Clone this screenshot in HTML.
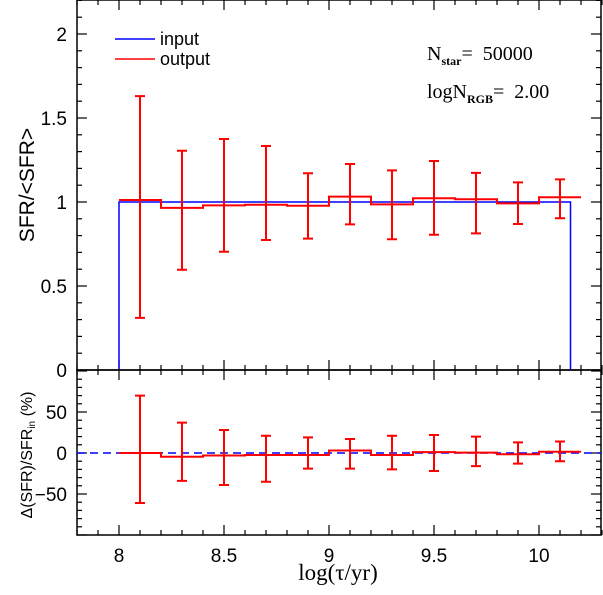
<!DOCTYPE html>
<html><head><meta charset="utf-8"><style>
html,body{margin:0;padding:0;background:#fff;}
svg{display:block;font-family:"Liberation Sans",sans-serif;}
</style></head><body>
<svg id="chart" width="603" height="595" viewBox="0 0 603 595" xmlns="http://www.w3.org/2000/svg">
<g id="gtop"></g>
<g id="gbot"></g>
<g>
<line x1="115" y1="39" x2="155" y2="39" stroke="#0000ff" stroke-width="1.5"/>
<text x="160" y="45" font-size="18">input</text>
<line x1="115" y1="59" x2="155" y2="59" stroke="#ff0000" stroke-width="1.5"/>
<text x="160" y="65" font-size="18">output</text>
</g>
<text x="427" y="60" font-family="Liberation Serif, serif" font-size="20" xml:space="preserve">N<tspan font-size="12" font-weight="bold" dy="5">star</tspan><tspan dy="-5">=  50000</tspan></text>
<text x="427" y="98" font-family="Liberation Serif, serif" font-size="20" xml:space="preserve">logN<tspan font-size="12" font-weight="bold" dy="5">RGB</tspan><tspan dy="-5">=  2.00</tspan></text>
<text transform="translate(34,185) rotate(-90)" text-anchor="middle" font-size="21">SFR/&lt;SFR&gt;</text>
<text transform="translate(32,455) rotate(-90)" text-anchor="middle" font-size="16">Δ(SFR)/SFR<tspan font-size="10" dy="3">in</tspan><tspan dy="-3"> (%)</tspan></text>
<text x="338" y="580" text-anchor="middle" font-family="Liberation Serif, serif" font-size="23">log(τ/yr)</text>
</svg>
<script>
const binEdges = [8.0,8.2,8.4,8.6,8.8,9.0,9.2,9.4,9.6,9.8,10.0,10.2];
const errX = [8.1,8.3,8.5,8.7,8.9,9.1,9.3,9.5,9.7,9.9,10.1];
const outVals = [1.012,0.965,0.98,0.984,0.978,1.032,0.986,1.022,1.016,0.992,1.028];
const errHi = [1.63,1.305,1.375,1.333,1.171,1.226,1.188,1.244,1.173,1.117,1.135];
const errLo = [0.31,0.597,0.704,0.774,0.782,0.867,0.778,0.805,0.813,0.869,0.903];
const inputStart = 8.0, inputEnd = 10.15, inputVal = 1.0;
const resVals = [0,-4.5,-3,-2.5,-2.5,3,-2.5,1,0.5,-1.5,1.5];
const resHi = [70,37,28,21,19,17,21,22,20,13,14];
const resLo = [-61,-34,-39,-35,-19,-19,-20,-22,-16,-13,-10];
const xTicks = [8,8.5,9,9.5,10];
const yTopTicks = [0,0.5,1,1.5,2];
const yBotTicks = [-50,0,50];

const NS="http://www.w3.org/2000/svg";
const L=77,R=601;
const X=v=>119+(v-8)*210;
const YT=v=>370-v*168;
const YB=v=>453-v*0.82;
function mk(p,tag,a){const e=document.createElementNS(NS,tag);for(const k in a)e.setAttribute(k,a[k]);p.appendChild(e);return e;}
const gTop=document.getElementById('gtop'), gBot=document.getElementById('gbot');

function frame(g,y0,y1,yf,ymin,ymax,ymaj,ystep,labels,fmt){
  const b=mk(g,'rect',{x:L,y:y0,width:R-L,height:y1-y0,fill:'none',stroke:'#000','stroke-width':1.5});
  
  
  for(let i=0;i<=25;i++){
    const v=7.8+i*0.1;
    const maj=Math.abs(v*2-Math.round(v*2))<1e-6, len=maj?10:5, x=X(v);
    mk(g,'line',{x1:x,y1:y0,x2:x,y2:y0+len,stroke:'#000','stroke-width':1.2});
    mk(g,'line',{x1:x,y1:y1,x2:x,y2:y1-len,stroke:'#000','stroke-width':1.2});
  }
  const n=Math.round((ymax-ymin)/ystep);
  for(let i=0;i<=n;i++){
    const v=ymin+i*ystep;
    const r=v/ymaj, maj=Math.abs(r-Math.round(r))<1e-6, len=maj?10:5, y=yf(v);
    if(y<y0-0.5||y>y1+0.5)continue;
    mk(g,'line',{x1:L,y1:y,x2:L+len,y2:y,stroke:'#000','stroke-width':1.2});
    mk(g,'line',{x1:R,y1:y,x2:R-len,y2:y,stroke:'#000','stroke-width':1.2});
  }
  labels.forEach(v=>{
    const t=mk(g,'text',{x:L-10,y:yf(v)+7,'text-anchor':'end','font-size':19});
    
    
    t.textContent=fmt(v);
  });
}
frame(gTop,0,370,YT,0,2.2,0.5,0.1,yTopTicks,v=>String(v));
frame(gBot,370,535,YB,-100,100,50,10,yBotTicks,v=>v<0?'−'+Math.abs(v):String(v));
xTicks.forEach(v=>{
  const t=mk(gBot,'text',{x:X(v),y:562,'text-anchor':'middle','font-size':19});
  
  
  t.textContent=String(v);
});
const inp=mk(gTop,'polyline',{points:`${X(inputStart)},${YT(0)} ${X(inputStart)},${YT(inputVal)} ${X(inputEnd)},${YT(inputVal)} ${X(inputEnd)},${YT(0)}`,fill:'none',stroke:'#0000ff','stroke-width':1.5});


function steps(vals,yf){let p=[];vals.forEach((v,i)=>{p.push(`${X(binEdges[i])},${yf(v)}`);p.push(`${X(binEdges[i+1])},${yf(v)}`);});return p.join(' ');}
const out=mk(gTop,'polyline',{points:steps(outVals,YT),fill:'none',stroke:'#ff0000','stroke-width':2});


function errs(g,hi,lo,yf){
  errX.forEach((x,i)=>{
    const e=mk(g,'path',{d:`M${X(x)},${yf(hi[i])}V${yf(lo[i])}M${X(x)-5},${yf(hi[i])}h10M${X(x)-5},${yf(lo[i])}h10`,stroke:'#ff0000','stroke-width':2,fill:'none'});
    
    
  });
}
errs(gTop,errHi,errLo,YT);
const z=mk(gBot,'line',{x1:L,y1:YB(0),x2:R,y2:YB(0),stroke:'#0000ff','stroke-width':1.5,'stroke-dasharray':'8,5'});


const rs=mk(gBot,'polyline',{points:steps(resVals,YB),fill:'none',stroke:'#ff0000','stroke-width':2});


errs(gBot,resHi,resLo,YB);
</script>
</body></html>
